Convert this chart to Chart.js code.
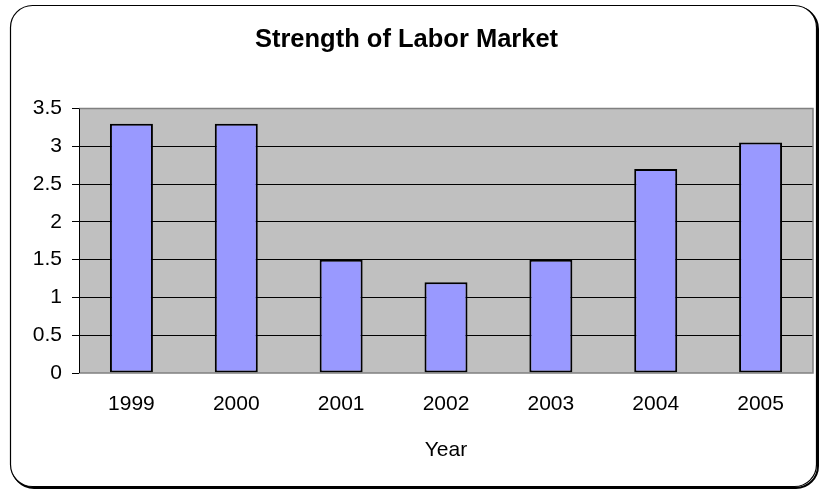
<!DOCTYPE html>
<html>
<head>
<meta charset="utf-8">
<script src="https://cdn.jsdelivr.net/npm/chart.js@4/dist/chart.umd.min.js"></script>
<style>
  html, body { margin: 0; padding: 0; background: #fff; }
  #wrap { width: 820px; height: 491px; position: relative; }
</style>
</head>
<body>
<div id="wrap"><canvas id="laborChart"></canvas></div>
<script>
// values
const years = ['1999', '2000', '2001', '2002', '2003', '2004', '2005'];
const strength = [3.3, 3.3, 1.5, 1.2, 1.5, 2.7, 3.05];
const yTicks = [0, 0.5, 1, 1.5, 2, 2.5, 3, 3.5];

const FONT = "'Liberation Sans', Arial, sans-serif";

// grey plot area + outer rounded frame, Excel style
const frame = {
    id: 'frame',
    beforeDraw(chart) {
        const { ctx, chartArea: a } = chart;
        ctx.save();
        ctx.fillStyle = '#fff';
        ctx.fillRect(0, 0, chart.width, chart.height);

        // shadow then border
        ctx.strokeStyle = '#000';
        ctx.lineWidth = 2;
        ctx.beginPath();
        ctx.roundRect(12, 7, 806, 481, 22);
        ctx.stroke();
        ctx.fillStyle = '#fff';
        ctx.beginPath();
        ctx.roundRect(10.5, 5.5, 806, 481, 22);
        ctx.fill();
        ctx.lineWidth = 1.2;
        ctx.stroke();

        ctx.fillStyle = '#c0c0c0';
        ctx.fillRect(a.left, a.top, a.right - a.left, a.bottom - a.top);
        ctx.restore();
    },
    afterDatasetsDraw(chart) {
        const { ctx, chartArea: a } = chart;
        ctx.save();
        ctx.strokeStyle = '#808080';
        ctx.lineWidth = 1.5;
        ctx.beginPath();
        ctx.moveTo(a.left, a.top);
        ctx.lineTo(a.right, a.top);
        ctx.lineTo(a.right, a.bottom);
        ctx.lineTo(a.left, a.bottom);
        ctx.stroke();
        ctx.strokeStyle = '#000';
        ctx.lineWidth = 1;
        ctx.beginPath();
        ctx.moveTo(a.left + 0.5, a.top);
        ctx.lineTo(a.left + 0.5, a.bottom);
        ctx.stroke();
        ctx.restore();
    }
};

const ctx = document.getElementById('laborChart').getContext('2d');
new Chart(ctx, {
    type: 'bar',
    data: {
        labels: years,
        datasets: [{
            label: 'Strength',
            data: strength,
            backgroundColor: '#9999ff',
            borderColor: '#000',
            borderWidth: 2,
            borderSkipped: false,
            categoryPercentage: 1,
            barPercentage: 0.41
        }]
    },
    options: {
        responsive: true,
        maintainAspectRatio: false,
        animation: false,
        layout: { padding: { left: 0, right: 7, top: 0, bottom: 0 } },
        scales: {
            x: {
                grid: { display: false, drawTicks: false },
                border: { display: false },
                ticks: { color: '#000', padding: 19, font: { family: FONT, size: 21 } },
                title: {
                    display: true,
                    text: 'Year',
                    color: '#000',
                    font: { family: FONT, size: 21 },
                    padding: { top: 0, bottom: 28 }
                },
                afterFit: (scale) => { scale.height = 118; }
            },
            y: {
                min: 0,
                max: 3.5,
                afterBuildTicks: (scale) => { scale.ticks = yTicks.map(v => ({ value: v })); },
                grid: {
                    color: (c) => (c.tick && (c.tick.value === 0 || c.tick.value === 3.5)) ? 'rgba(0,0,0,0)' : '#000',
                    tickColor: '#000',
                    tickLength: 7,
                    lineWidth: 1
                },
                border: { display: false },
                ticks: {
                    color: '#000',
                    padding: 10,
                    font: { family: FONT, size: 21 },
                    callback: (v) => String(v)
                },
                afterFit: (scale) => { scale.width = 79; }
            }
        },
        plugins: {
            legend: { display: false },
            tooltip: { enabled: false },
            title: {
                display: true,
                text: 'Strength of Labor Market',
                color: '#000',
                font: { family: FONT, size: 25.5, weight: 'bold' },
                padding: { top: 25, bottom: 53 }
            }
        }
    },
    plugins: [frame]
});
</script>
</body>
</html>
